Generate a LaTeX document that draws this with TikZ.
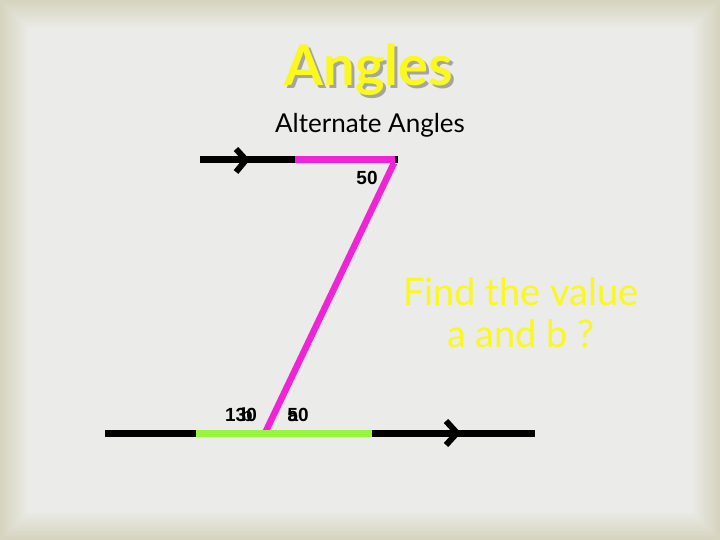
\documentclass[tikz,border=0pt]{standalone}
\usepackage{fontspec}
\setmainfont{Lato}
\newfontfamily\numfont{Liberation Sans}
\definecolor{bgedge}{RGB}{214,212,190}
\definecolor{bgmid}{RGB}{235,235,233}
\definecolor{mag}{RGB}{238,36,214}
\definecolor{lime}{RGB}{150,245,60}
\definecolor{ttl}{RGB}{250,248,30}
\definecolor{shadowgrey}{RGB}{165,165,160}
\begin{document}
\begin{tikzpicture}[x=1pt,y=-1pt,
  thick line/.style={line width=7pt},
  chev/.style={line width=6pt,line cap=butt,line join=miter},
  angnum/.style={font=\numfont\bfseries\fontsize{19}{21}\selectfont,inner sep=0pt},
  ytext/.style={text=ttl,font=\fontsize{38}{44}\selectfont,inner sep=0pt}]
\useasboundingbox (0,0) rectangle (720,540);
\fill[bgedge] (0,0) rectangle (720,540);
\foreach \i in {0,...,22} {
  \pgfmathtruncatemacro\p{\i*100/22}
  \fill[bgmid!\p!bgedge] (\i*1.3,\i*1.3) rectangle (720-\i*1.3,540-\i*1.3);
}
% title
\node[text=shadowgrey,font=\bfseries\fontsize{56}{64}\selectfont,inner sep=0pt] (titleshadow) at (372,73) {Angles};
\node[text=ttl,font=\bfseries\fontsize{56}{64}\selectfont,inner sep=0pt] (title) at (369,70) {Angles};
\node[font=\fontsize{26}{30}\selectfont,inner sep=0pt] (sub) at (370,125) {Alternate Angles};
% coordinates
\coordinate (tl) at (200,160);
\coordinate (tm) at (295,160);
\coordinate (tr) at (397,160);
\coordinate (bx) at (265,433);
\coordinate (bl) at (105,433);
\coordinate (bm1) at (196,433);
\coordinate (bm2) at (372,433);
\coordinate (br) at (535,433);
% top line
\draw[thick line] (tl) -- (tm);
\draw[thick line,mag] (tm) -- (tr);
\fill (tr) ++(-2,-3.5) rectangle ++(3,7);
\coordinate (ta1) at (236,149);
\coordinate (tap) at (246,160);
\coordinate (ta2) at (236,172);
\draw[chev] (ta1) -- (tap) -- (ta2);
% transversal
\draw[line width=6.5pt,mag] (394,163) -- (bx);
% bottom line
\draw[thick line] (bl) -- (bm1);
\draw[thick line,lime] (bm1) -- (bm2);
\draw[thick line] (bm2) -- (br);
\coordinate (ba1) at (446,421);
\coordinate (bap) at (457,433);
\coordinate (ba2) at (446,445);
\draw[chev] (ba1) -- (bap) -- (ba2);
% labels
\node[angnum] (top50) at (367,178) {50};
\node[angnum] (l130) at (241,415) {130};
\node[angnum] (lb) at (247,415) {b};
\node[angnum] (r50) at (298,415) {50};
\node[angnum] (ra) at (293,416) {a};
% question
\node[ytext] (q1) at (521,292) {Find the value};
\node[ytext] (q2) at (521,334) {a and b ?};
\end{tikzpicture}
\end{document}
